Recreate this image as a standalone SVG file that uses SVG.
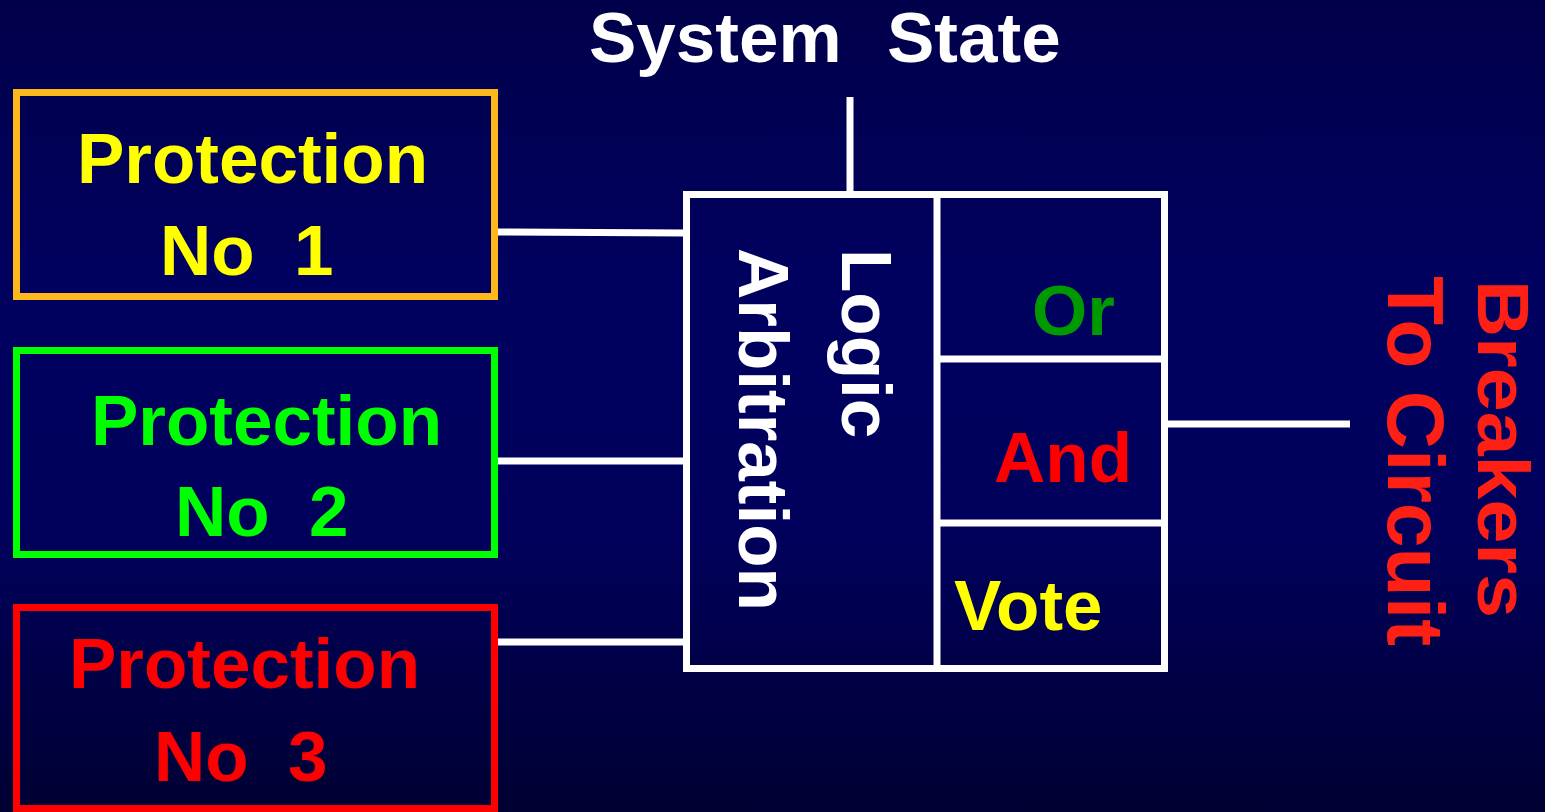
<svg xmlns="http://www.w3.org/2000/svg" width="1545" height="812" viewBox="0 0 1545 812">
<defs>
<linearGradient id="bg" x1="0" y1="0" x2="0" y2="1">
<stop offset="0" stop-color="#00004A"/>
<stop offset="0.35" stop-color="#00005F"/>
<stop offset="0.65" stop-color="#00005C"/>
<stop offset="1" stop-color="#000033"/>
</linearGradient>
<style>
text{font-family:"Liberation Sans",Arial,sans-serif;font-weight:bold;white-space:pre}
.box{fill:none;stroke-width:7}
.wl{stroke:#FFFFFF;stroke-width:7;fill:none}
.big{font-size:71px}
</style>
</defs>
<rect x="0" y="0" width="1545" height="812" fill="url(#bg)"/>

<g id="title">
<text x="589" y="62" font-size="71" fill="#FFFFFF">System</text>
<text x="887" y="62" font-size="71" fill="#FFFFFF">State</text>
</g>

<g id="connectors">
<line class="wl" x1="850" y1="97" x2="850" y2="194"/>
<line class="wl" x1="498" y1="232" x2="686" y2="233" stroke-width="6"/>
<line class="wl" x1="498" y1="461" x2="686" y2="461" stroke-width="6"/>
<line class="wl" x1="498" y1="642" x2="686" y2="642" stroke-width="6"/>
<line class="wl" x1="1165" y1="424" x2="1350" y2="424" stroke-width="6"/>
</g>

<g id="protection1">
<rect class="box" x="16.5" y="92.5" width="478" height="204" stroke="#FFB81C"/>
<text class="big" x="77" y="183" fill="#FFFF00">Protection</text>
<text class="big" x="160" y="275" fill="#FFFF00" xml:space="preserve">No  1</text>
</g>

<g id="protection2">
<rect class="box" x="16.5" y="350.5" width="478" height="204" stroke="#00FF00"/>
<text class="big" x="91" y="445" fill="#00FF00">Protection</text>
<text class="big" x="175" y="536" fill="#00FF00" xml:space="preserve">No  2</text>
</g>

<g id="protection3">
<rect class="box" x="16.5" y="607.5" width="478" height="201" stroke="#FF0000"/>
<text class="big" x="69" y="688" fill="#FF0000">Protection</text>
<text class="big" x="154" y="781" fill="#FF0000" xml:space="preserve">No  3</text>
</g>

<g id="logic">
<rect class="wl" x="686.5" y="194.5" width="478" height="474"/>
<line class="wl" x1="937" y1="194" x2="937" y2="668"/>
<line class="wl" x1="937" y1="359" x2="1164" y2="359"/>
<line class="wl" x1="937" y1="523" x2="1164" y2="523"/>
<text class="big" transform="translate(842,249) rotate(90)" fill="#FFFFFF">Logic</text>
<text class="big" transform="translate(739,248) rotate(90)" fill="#FFFFFF">Arbitration</text>
</g>

<g id="or">
<text class="big" x="1032" y="335" fill="#009900">Or</text>
</g>
<g id="and">
<text class="big" x="994" y="482" fill="#FF0000">And</text>
</g>
<g id="vote">
<text class="big" x="954" y="630" fill="#FFFF00">Vote</text>
</g>

<g id="breakers">
<text transform="translate(1478,280) rotate(90)" font-size="72" fill="#FF2015" textLength="338" lengthAdjust="spacingAndGlyphs">Breakers</text>
<text transform="translate(1388,276) rotate(90)" font-size="80" fill="#FF2015" textLength="370" lengthAdjust="spacingAndGlyphs">To Circuit</text>
</g>
</svg>
